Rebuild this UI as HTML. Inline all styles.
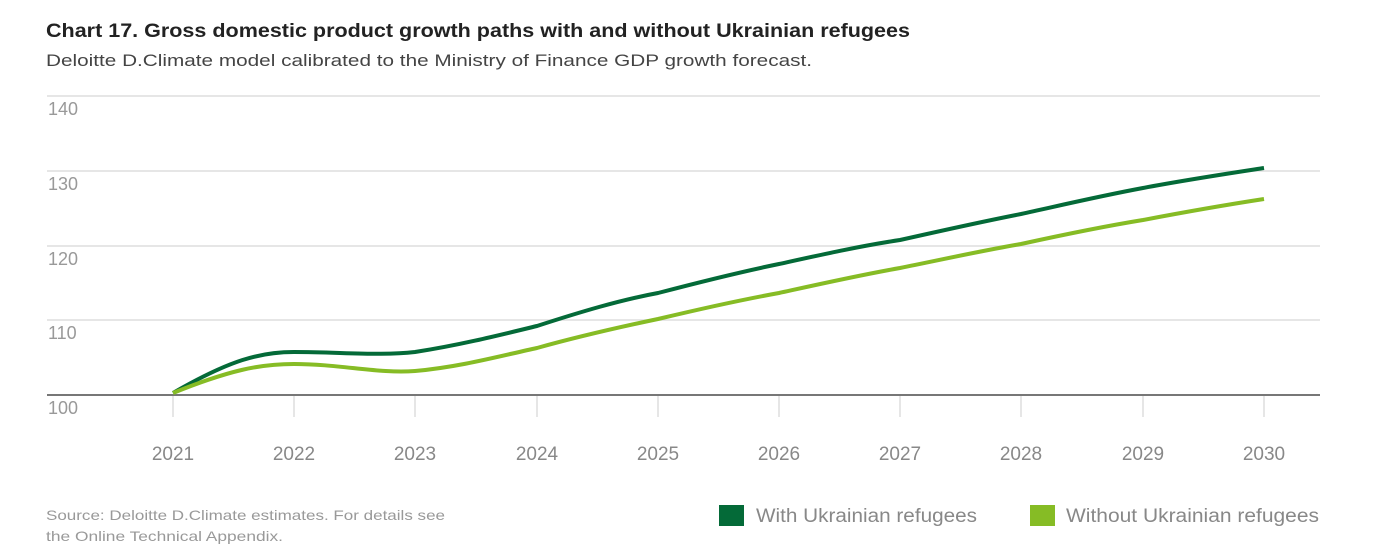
<!DOCTYPE html>
<html><head><meta charset="utf-8"><style>
body{margin:0;background:#fff;width:1394px;height:550px;overflow:hidden;font-family:"Liberation Sans",sans-serif}
</style></head><body>
<svg width="1394" height="550" xmlns="http://www.w3.org/2000/svg" font-family="Liberation Sans, sans-serif">
<text x="46" y="37" font-size="19" font-weight="bold" fill="#222" textLength="864" lengthAdjust="spacingAndGlyphs">Chart 17. Gross domestic product growth paths with and without Ukrainian refugees</text>
<text x="46" y="66" font-size="17" fill="#444" textLength="766" lengthAdjust="spacingAndGlyphs">Deloitte D.Climate model calibrated to the Ministry of Finance GDP growth forecast.</text>
<g stroke="#ddd" stroke-width="1.5">
<line x1="47" y1="96" x2="1320" y2="96"/><line x1="47" y1="171" x2="1320" y2="171"/><line x1="47" y1="246" x2="1320" y2="246"/><line x1="47" y1="320" x2="1320" y2="320"/>
<line x1="173" y1="396" x2="173" y2="417"/><line x1="294" y1="396" x2="294" y2="417"/><line x1="415" y1="396" x2="415" y2="417"/><line x1="537" y1="396" x2="537" y2="417"/><line x1="658" y1="396" x2="658" y2="417"/><line x1="779" y1="396" x2="779" y2="417"/><line x1="900" y1="396" x2="900" y2="417"/><line x1="1021" y1="396" x2="1021" y2="417"/><line x1="1143" y1="396" x2="1143" y2="417"/><line x1="1264" y1="396" x2="1264" y2="417"/>
</g>
<line x1="47" y1="395" x2="1320" y2="395" stroke="#777" stroke-width="2"/>
<g font-size="18" fill="#999">
<text x="48" y="115">140</text><text x="48" y="190">130</text><text x="48" y="265">120</text><text x="48" y="339">110</text><text x="48" y="414">100</text>
</g>
<g font-size="19" fill="#888" text-anchor="middle">
<text x="173" y="460">2021</text><text x="294" y="460">2022</text><text x="415" y="460">2023</text><text x="537" y="460">2024</text><text x="658" y="460">2025</text><text x="779" y="460">2026</text><text x="900" y="460">2027</text><text x="1021" y="460">2028</text><text x="1143" y="460">2029</text><text x="1264" y="460">2030</text>
</g>
<path d="M173,393 C230,360 260,352 294,352 C340,352 380,356 415,352 C460,345 500,335 537,326 C580,312 620,300 658,293 C700,282 740,272 779,264 C820,255 860,246 900,240 C940,231 980,222 1021,214 C1062,205 1100,196 1143,188 C1185,180 1225,174 1264,168" fill="none" stroke="#046a38" stroke-width="4"/>
<path d="M173,393 C230,370 260,364 294,364 C340,364 380,374 415,371 C460,367 500,356 537,348 C580,336 620,327 658,319 C700,309 740,300 779,293 C820,284 860,275 900,268 C940,260 980,251 1021,244 C1062,235 1100,227 1143,220 C1185,212 1225,205 1264,199" fill="none" stroke="#86bc25" stroke-width="4"/>
<g font-size="14" fill="#999"><text x="46" y="520" textLength="399" lengthAdjust="spacingAndGlyphs">Source: Deloitte D.Climate estimates. For details see</text><text x="46" y="541" textLength="237" lengthAdjust="spacingAndGlyphs">the Online Technical Appendix.</text></g>
<rect x="719" y="505" width="25" height="21" fill="#046a38"/>
<text x="756" y="522" font-size="19" fill="#888" textLength="221" lengthAdjust="spacingAndGlyphs">With Ukrainian refugees</text>
<rect x="1030" y="505" width="25" height="21" fill="#86bc25"/>
<text x="1066" y="522" font-size="19" fill="#888" textLength="253" lengthAdjust="spacingAndGlyphs">Without Ukrainian refugees</text>
</svg>
</body></html>
